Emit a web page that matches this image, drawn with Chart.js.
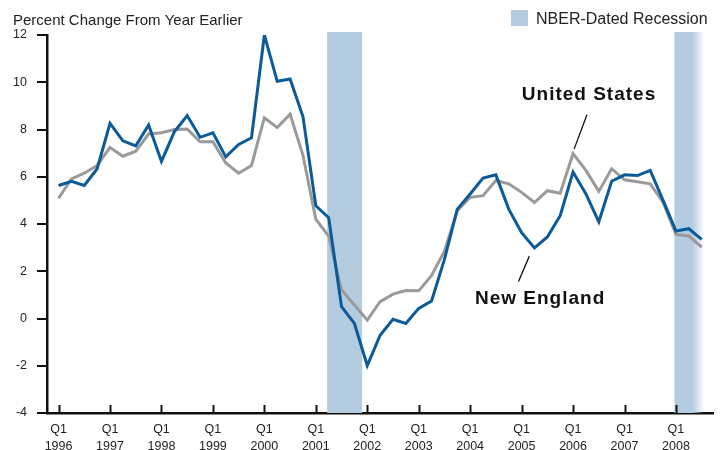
<!DOCTYPE html>
<html>
<head>
<meta charset="utf-8">
<script src="https://cdn.jsdelivr.net/npm/chart.js@4.4.1/dist/chart.umd.min.js"></script>
<style>
    body { margin: 0; background: #fff; }
    #wrap { width: 723px; height: 450px; }
</style>
</head>
<body>
<div id="wrap"><canvas id="grafico" width="723" height="450"></canvas></div>
<script>
const quarters = [
    '1996Q1','1996Q2','1996Q3','1996Q4','1997Q1','1997Q2','1997Q3','1997Q4',
    '1998Q1','1998Q2','1998Q3','1998Q4','1999Q1','1999Q2','1999Q3','1999Q4',
    '2000Q1','2000Q2','2000Q3','2000Q4','2001Q1','2001Q2','2001Q3','2001Q4',
    '2002Q1','2002Q2','2002Q3','2002Q4','2003Q1','2003Q2','2003Q3','2003Q4',
    '2004Q1','2004Q2','2004Q3','2004Q4','2005Q1','2005Q2','2005Q3','2005Q4',
    '2006Q1','2006Q2','2006Q3','2006Q4','2007Q1','2007Q2','2007Q3','2007Q4',
    '2008Q1','2008Q2','2008Q3'
];

const newEngland = [
    5.63, 5.81, 5.63, 6.34, 8.26, 7.52, 7.31, 8.19, 6.65, 7.9, 8.59, 7.67, 7.86,
    6.84, 7.37, 7.65, 12.0, 10.04, 10.14, 8.55, 4.77, 4.27, 0.5, -0.21, -1.99,
    -0.71, -0.03, -0.21, 0.43, 0.74, 2.5, 4.63, 5.27, 5.94, 6.08, 4.63, 3.63,
    2.99, 3.45, 4.35, 6.2, 5.27, 4.09, 5.81, 6.08, 6.05, 6.27, 5.0, 3.7, 3.8, 3.35
];

const unitedStates = [
    5.09, 5.91, 6.15, 6.48, 7.24, 6.87, 7.08, 7.81, 7.86, 8.0, 8.02, 7.48, 7.48,
    6.58, 6.15, 6.48, 8.5, 8.08, 8.65, 6.91, 4.2, 3.49, 1.21, 0.57, -0.07, 0.71,
    1.03, 1.18, 1.17, 1.82, 2.85, 4.56, 5.13, 5.2, 5.84, 5.7, 5.34, 4.91, 5.41,
    5.3, 6.98, 6.27, 5.38, 6.34, 5.87, 5.79, 5.7, 4.91, 3.56, 3.49, 3.02
];

const tickYears = [1996, 1997, 1998, 1999, 2000, 2001, 2002, 2003, 2004, 2005, 2006, 2007, 2008];
const yTicks = [-4, -2, 0, 2, 4, 6, 8, 10, 12];

// recesiones NBER (en años decimales)
const recessionStart = [2001.22, 2007.97];
const recessionEnd = [2001.9, 2008.55];
const recessionFade = [null, 2008.32];

const colorNE = '#0b5a9a';
const colorUS = '#9a9a9a';
const colorRecesion = '#b4cce0';

function toYear(q) {
    return parseInt(q.slice(0, 4)) + (parseInt(q.slice(5)) - 1) / 4;
}

const puntosNE = quarters.map((q, i) => ({ x: toYear(q), y: newEngland[i] }));
const puntosUS = quarters.map((q, i) => ({ x: toYear(q), y: unitedStates[i] }));

// sombreado de recesiones detrás de las líneas
const recesionPlugin = {
    id: 'recesiones',
    beforeDatasetsDraw(chart) {
        const { ctx, chartArea, scales: { x } } = chart;
        ctx.save();
        recessionStart.forEach((ini, i) => {
            const x0 = x.getPixelForValue(ini);
            const x1 = x.getPixelForValue(recessionEnd[i]);
            const top = chartArea.top - 3;
            if (recessionFade[i]) {
                const g = ctx.createLinearGradient(x0, 0, x1, 0);
                const f = (x.getPixelForValue(recessionFade[i]) - x0) / (x1 - x0);
                g.addColorStop(0, colorRecesion);
                g.addColorStop(f, colorRecesion);
                g.addColorStop(1, 'rgba(180,204,224,0)');
                ctx.fillStyle = g;
            } else {
                ctx.fillStyle = colorRecesion;
            }
            ctx.fillRect(x0, top, x1 - x0, chartArea.bottom - top);
        });
        ctx.restore();
    }
};

// marcas del eje X, título, leyenda y anotaciones
const adornosPlugin = {
    id: 'adornos',
    afterDraw(chart) {
        const { ctx, chartArea, scales: { x, y } } = chart;
        ctx.save();

        ctx.strokeStyle = '#111';
        ctx.lineWidth = 2;
        tickYears.forEach(v => {
            const px = Math.round(x.getPixelForValue(v)) + 0.5;
            ctx.beginPath();
            ctx.moveTo(px, chartArea.bottom);
            ctx.lineTo(px, chartArea.bottom - 8);
            ctx.stroke();
        });

        ctx.fillStyle = '#222';
        ctx.font = '15px "Liberation Sans", Arial, sans-serif';
        ctx.textBaseline = 'alphabetic';
        ctx.textAlign = 'left';
        ctx.fillText('Percent Change From Year Earlier', 13, 25);

        ctx.fillStyle = colorRecesion;
        ctx.fillRect(511, 10, 17, 16);
        ctx.fillStyle = '#222';
        ctx.font = '16px "Liberation Sans", Arial, sans-serif';
        ctx.fillText('NBER-Dated Recession', 536, 24);

        ctx.font = 'bold 19px "Liberation Sans", Arial, sans-serif';
        ctx.letterSpacing = '1px';
        ctx.textAlign = 'center';
        ctx.textBaseline = 'middle';
        ctx.fillStyle = '#111';
        ctx.fillText('United States', x.getPixelForValue(2006.31), y.getPixelForValue(9.47));
        ctx.fillText('New England', x.getPixelForValue(2005.36), y.getPixelForValue(0.85));

        ctx.strokeStyle = '#111';
        ctx.lineWidth = 1.3;
        ctx.beginPath();
        ctx.moveTo(x.getPixelForValue(2006.27), y.getPixelForValue(8.62));
        ctx.lineTo(x.getPixelForValue(2006.02), y.getPixelForValue(7.17));
        ctx.moveTo(x.getPixelForValue(2005.15), y.getPixelForValue(2.64));
        ctx.lineTo(x.getPixelForValue(2004.94), y.getPixelForValue(1.57));
        ctx.stroke();

        ctx.restore();
    }
};

const ctx = document.getElementById('grafico').getContext('2d');
new Chart(ctx, {
    type: 'line',
    data: {
        datasets: [
            { label: 'New England', data: puntosNE, borderColor: colorNE, borderWidth: 3, order: 0 },
            { label: 'United States', data: puntosUS, borderColor: colorUS, borderWidth: 3, order: 1 }
        ]
    },
    options: {
        responsive: false,
        animation: false,
        layout: { padding: { top: 35, right: 10, left: 0, bottom: 0 } },
        elements: {
            point: { radius: 0 },
            line: { tension: 0, borderJoinStyle: 'miter', fill: false }
        },
        plugins: {
            legend: { display: false },
            tooltip: { enabled: false }
        },
        scales: {
            x: {
                type: 'linear',
                min: 1995.775,
                max: 2008.72,
                afterBuildTicks: axis => { axis.ticks = tickYears.map(v => ({ value: v })); },
                afterFit: axis => { axis.height = 37; },
                grid: { display: false, drawTicks: false },
                border: { display: true, color: '#111', width: 2.5 },
                ticks: {
                    autoSkip: false,
                    maxRotation: 0,
                    padding: 8,
                    color: '#222',
                    font: { family: '"Liberation Sans Narrow", "Liberation Sans", Arial, sans-serif', size: 12.5, lineHeight: 1.35 },
                    callback: v => ['Q1', String(v)]
                }
            },
            y: {
                min: -4,
                max: 12,
                afterBuildTicks: axis => { axis.ticks = yTicks.map(v => ({ value: v })); },
                afterFit: axis => { axis.width = 47; },
                grid: { drawOnChartArea: false, drawTicks: true, tickLength: 10, color: '#111', lineWidth: 2 },
                border: { display: true, color: '#111', width: 2.5 },
                ticks: {
                    padding: 10,
                    color: '#222',
                    font: { family: '"Liberation Sans", Arial, sans-serif', size: 12.5 }
                }
            }
        }
    },
    plugins: [recesionPlugin, adornosPlugin]
});
</script>
</body>
</html>
